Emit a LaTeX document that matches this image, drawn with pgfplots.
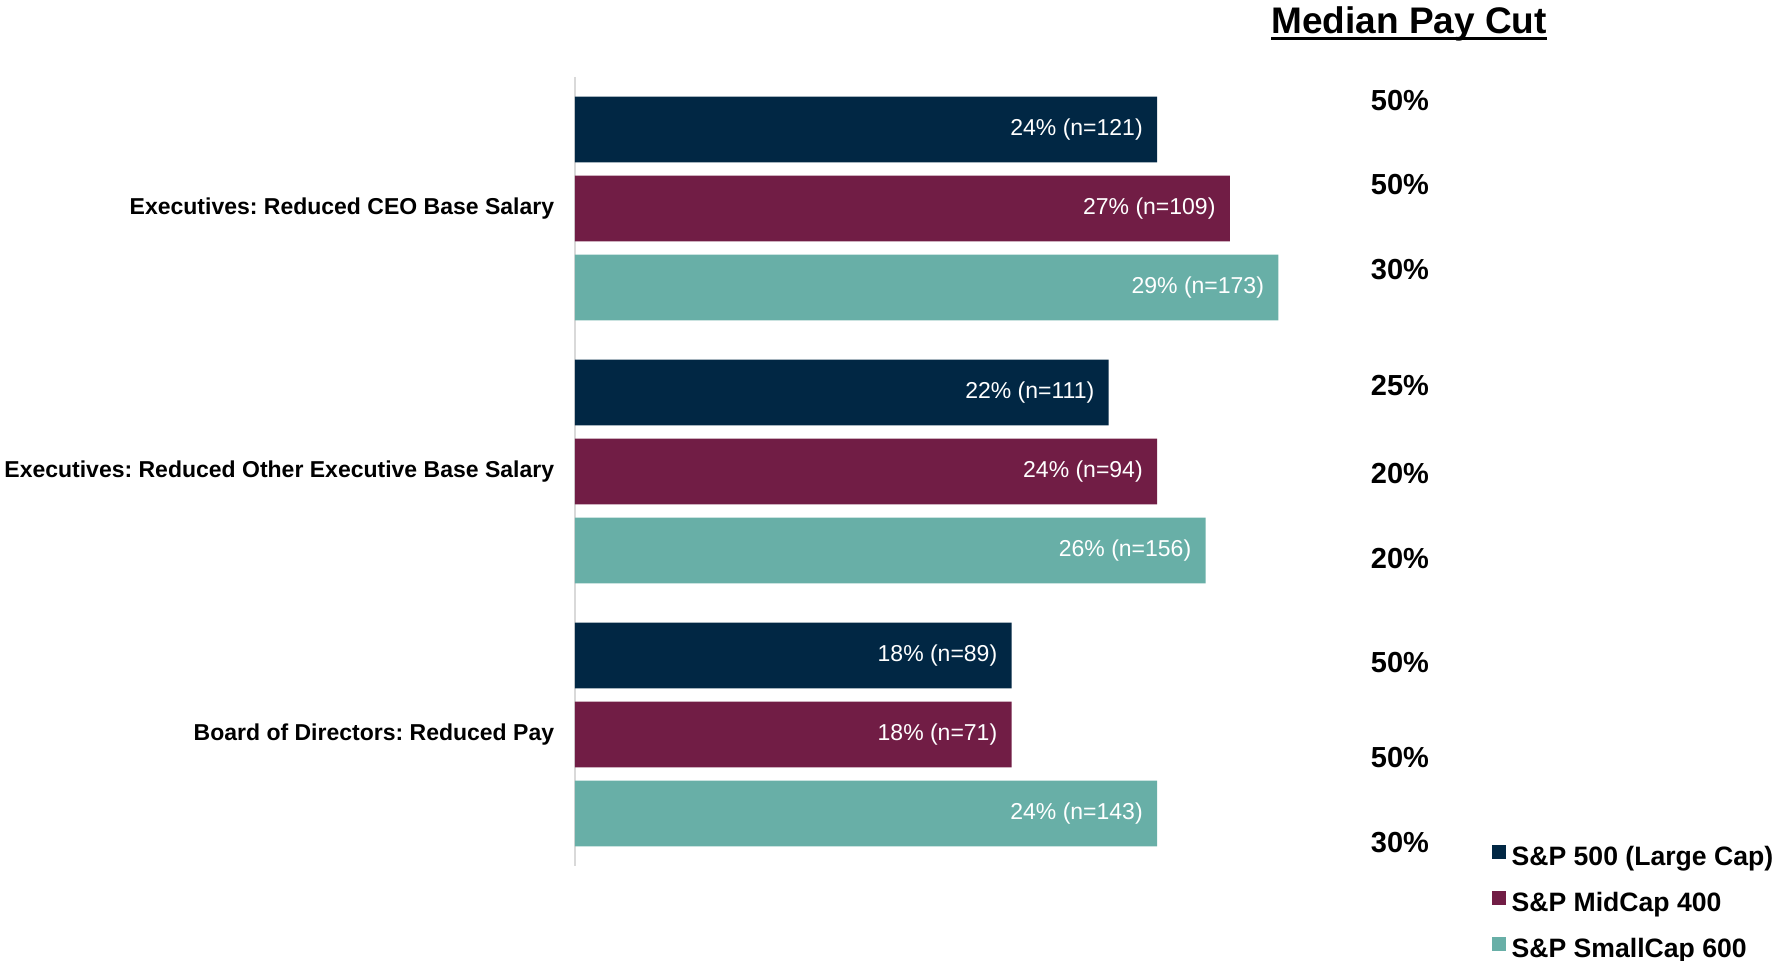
\documentclass[border=0pt]{standalone}
\usepackage{fontspec}
\setmainfont{Liberation Sans}
\usepackage{pgfplots}
\pgfplotsset{compat=1.18}
\frenchspacing
\definecolor{cNavy}{RGB}{1,39,68}
\definecolor{cMaroon}{RGB}{113,29,69}
\definecolor{cTeal}{RGB}{104,175,167}
\definecolor{lineGray}{RGB}{217,217,217}
\newcommand\catfont{\fontsize{11.5}{13}\selectfont\bfseries}
\newcommand\barfont{\fontsize{11.5}{13}\selectfont}
\newcommand\medfont{\fontsize{14.5}{16}\selectfont\bfseries}
\newcommand\titlefont{\fontsize{18.5}{20}\selectfont\bfseries}
\newcommand\legfont{\fontsize{13.3}{15}\selectfont\bfseries}
\begin{document}
\begin{tikzpicture}
\path[use as bounding box] (-287.5pt,-47.5pt) rectangle (600pt,433pt);
\begin{axis}[
  scale only axis, width=363.75pt, height=394.5pt,
  xmin=0, xmax=30, ymin=-0.5, ymax=2.5, y dir=reverse,
  axis x line=none, axis y line*=left,
  y axis line style={draw=lineGray, line width=1pt},
  ytick={0,1,2},
  yticklabels={Executives: Reduced CEO Base Salary, Executives: Reduced Other Executive Base Salary, Board of Directors: Reduced Pay},
  ytick style={draw=none}, major tick length=0pt,
  yticklabel style={font=\catfont, xshift=-6.9pt},
  xtick=\empty,
  clip=false,
  legend cell align=left,
  legend style={draw=none, fill=none, at={(1.2605,0.0267)}, anchor=north west,
    font=\legfont, inner sep=0pt, row sep=9.9pt,
    nodes={inner sep=0pt, text height=9.6pt, text depth=3pt},
    /tikz/every odd column/.append style={column sep=2.8pt}},
]
\addplot[xbar, bar width=0.2497, bar shift=0, fill=cNavy, draw=none,
  nodes near coords, point meta=explicit symbolic,
  nodes near coords style={anchor=east, xshift=-3.6pt, font=\barfont, text=white},
  legend image code/.code={\fill[cNavy] (0pt,0pt) rectangle (6.8pt,6.8pt);}]
  coordinates {(24,-0.3004) [24\% (n=121)] (22,0.6996) [22\% (n=111)] (18,1.6996) [18\% (n=89)]};
\addlegendentry{S\&P 500 (Large Cap)}
\addplot[xbar, bar width=0.2497, bar shift=0, fill=cMaroon, draw=none,
  nodes near coords, point meta=explicit symbolic,
  nodes near coords style={anchor=east, xshift=-3.6pt, font=\barfont, text=white},
  legend image code/.code={\fill[cMaroon] (0pt,0pt) rectangle (6.8pt,6.8pt);}]
  coordinates {(27,0) [27\% (n=109)] (24,1) [24\% (n=94)] (18,2) [18\% (n=71)]};
\addlegendentry{S\&P MidCap 400}
\addplot[xbar, bar width=0.2497, bar shift=0, fill=cTeal, draw=none,
  nodes near coords, point meta=explicit symbolic,
  nodes near coords style={anchor=east, xshift=-3.6pt, font=\barfont, text=white},
  legend image code/.code={\fill[cTeal] (0pt,0pt) rectangle (6.8pt,6.8pt);}]
  coordinates {(29,0.3004) [29\% (n=173)] (26,1.3004) [26\% (n=156)] (24,2.3004) [24\% (n=143)]};
\addlegendentry{S\&P SmallCap 600}
\addplot[forget plot, only marks, mark=*, mark size=0pt,
  mark options={draw opacity=0, fill opacity=0},
  nodes near coords, point meta=explicit symbolic,
  nodes near coords style={anchor=center, font=\medfont, text=black, opacity=1}]
  coordinates {(34.02,-0.412) [50\%] (34.02,-0.090) [50\%] (34.02,0.232) [30\%]
               (34.02,0.674) [25\%] (34.02,1.009) [20\%] (34.02,1.330) [20\%]
               (34.02,1.725) [50\%] (34.02,2.086) [50\%] (34.02,2.412) [30\%]};
\node[font=\titlefont, anchor=base] at (axis cs:34.4,-0.667)
  {\vtop{\hbox{Median Pay Cut}\kern-1.9pt\hrule height 1.5pt}};
\end{axis}
\end{tikzpicture}
\end{document}
